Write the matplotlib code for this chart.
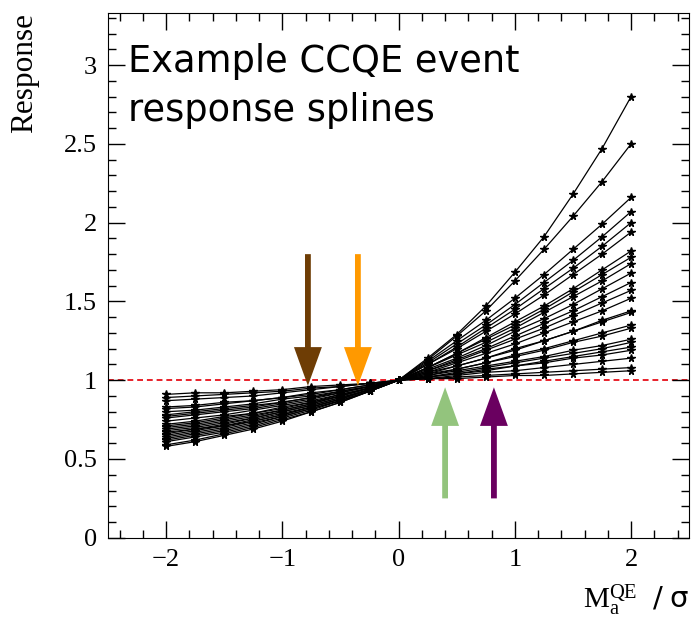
import matplotlib
matplotlib.use('Agg')
import matplotlib.pyplot as plt
from matplotlib.ticker import MultipleLocator

# knot positions (shift of M_a^QE in sigma)
knots = [-2, -1.75, -1.5, -1.25, -1, -0.75, -0.5, -0.25, 0,
         0.25, 0.5, 0.75, 1, 1.25, 1.5, 1.75, 2]

# response values per event
splines = [
    [0.58, 0.61, 0.65, 0.69, 0.74, 0.80, 0.86, 0.93, 1, 1.14, 1.29, 1.47, 1.685, 1.91, 2.18, 2.47, 2.80],
    [0.59, 0.62, 0.66, 0.70, 0.75, 0.80, 0.86, 0.93, 1, 1.13, 1.28, 1.44, 1.63, 1.83, 2.04, 2.26, 2.50],
    [0.61, 0.64, 0.67, 0.71, 0.76, 0.81, 0.87, 0.93, 1, 1.12, 1.25, 1.38, 1.52, 1.67, 1.83, 1.99, 2.16],
    [0.62, 0.65, 0.68, 0.72, 0.77, 0.82, 0.87, 0.93, 1, 1.11, 1.23, 1.35, 1.48, 1.62, 1.76, 1.91, 2.07],
    [0.63, 0.66, 0.69, 0.73, 0.77, 0.82, 0.87, 0.93, 1, 1.10, 1.21, 1.33, 1.45, 1.58, 1.71, 1.85, 2.00],
    [0.64, 0.67, 0.70, 0.74, 0.78, 0.83, 0.88, 0.94, 1, 1.10, 1.20, 1.31, 1.42, 1.54, 1.67, 1.80, 1.94],
    [0.65, 0.68, 0.71, 0.74, 0.78, 0.83, 0.88, 0.94, 1, 1.08, 1.17, 1.27, 1.37, 1.47, 1.58, 1.70, 1.82],
    [0.66, 0.69, 0.71, 0.75, 0.79, 0.83, 0.88, 0.94, 1, 1.08, 1.17, 1.26, 1.35, 1.45, 1.56, 1.67, 1.78],
    [0.67, 0.69, 0.72, 0.76, 0.80, 0.84, 0.89, 0.94, 1, 1.08, 1.16, 1.24, 1.33, 1.43, 1.53, 1.63, 1.74],
    [0.68, 0.70, 0.73, 0.76, 0.80, 0.84, 0.89, 0.94, 1, 1.07, 1.14, 1.22, 1.31, 1.39, 1.48, 1.58, 1.68],
    [0.69, 0.71, 0.74, 0.77, 0.81, 0.85, 0.90, 0.95, 1, 1.06, 1.13, 1.20, 1.28, 1.36, 1.44, 1.53, 1.62],
    [0.70, 0.72, 0.75, 0.78, 0.81, 0.85, 0.90, 0.95, 1, 1.06, 1.12, 1.19, 1.26, 1.33, 1.41, 1.49, 1.57],
    [0.71, 0.73, 0.76, 0.79, 0.82, 0.86, 0.90, 0.95, 1, 1.05, 1.11, 1.17, 1.23, 1.30, 1.37, 1.44, 1.52],
    [0.72, 0.74, 0.77, 0.79, 0.83, 0.86, 0.91, 0.95, 1, 1.05, 1.09, 1.14, 1.20, 1.25, 1.31, 1.38, 1.44],
    [0.74, 0.76, 0.78, 0.81, 0.84, 0.87, 0.91, 0.95, 1, 1.04, 1.09, 1.14, 1.19, 1.25, 1.31, 1.37, 1.43],
    [0.76, 0.78, 0.80, 0.82, 0.85, 0.88, 0.92, 0.96, 1, 1.04, 1.07, 1.11, 1.16, 1.20, 1.25, 1.30, 1.35],
    [0.77, 0.79, 0.81, 0.83, 0.86, 0.89, 0.92, 0.96, 1, 1.03, 1.07, 1.11, 1.15, 1.19, 1.24, 1.28, 1.33],
    [0.78, 0.80, 0.82, 0.84, 0.86, 0.89, 0.93, 0.96, 1, 1.03, 1.06, 1.09, 1.12, 1.15, 1.19, 1.22, 1.26],
    [0.80, 0.81, 0.83, 0.85, 0.88, 0.90, 0.93, 0.96, 1, 1.02, 1.05, 1.08, 1.11, 1.14, 1.17, 1.20, 1.24],
    [0.82, 0.83, 0.85, 0.87, 0.89, 0.91, 0.94, 0.97, 1, 1.02, 1.04, 1.07, 1.09, 1.12, 1.15, 1.18, 1.21],
    [0.83, 0.84, 0.86, 0.87, 0.89, 0.92, 0.94, 0.97, 1, 1.02, 1.04, 1.06, 1.09, 1.11, 1.14, 1.16, 1.19],
    [0.87, 0.88, 0.89, 0.90, 0.92, 0.94, 0.96, 0.98, 1, 1.01, 1.03, 1.05, 1.06, 1.08, 1.10, 1.12, 1.14],
    [0.89, 0.90, 0.91, 0.92, 0.93, 0.95, 0.96, 0.98, 1, 1.01, 1.02, 1.03, 1.04, 1.05, 1.06, 1.07, 1.08],
    [0.91, 0.92, 0.92, 0.93, 0.94, 0.96, 0.97, 0.98, 1, 1.01, 1.01, 1.02, 1.03, 1.03, 1.04, 1.05, 1.06],
]

# arrows: x position, tail y, head y, colour
arrow_x = [-0.78, -0.35, 0.40, 0.82]
arrow_from = [1.80, 1.80, 0.25, 0.25]
arrow_to = [0.965, 0.965, 0.955, 0.955]
arrow_colors = ['#6e3d05', '#ff9900', '#93c47d', '#6a0060']

plt.rcParams['font.family'] = 'Liberation Serif'
plt.rcParams['mathtext.fontset'] = 'custom'
plt.rcParams['mathtext.rm'] = 'Liberation Serif'
plt.rcParams['mathtext.it'] = 'Liberation Serif'
plt.rcParams['mathtext.sf'] = 'DejaVu Sans'

fig = plt.figure(figsize=(6.92, 6.21), dpi=100)
ax = fig.add_axes([0.156, 0.134, 0.84, 0.845])

for s in splines:
    ax.plot(knots, s, color='black', lw=0.9, marker='*', ms=5.5, mfc='black', mec='black')

ax.axhline(1, color='#e8202a', lw=1.4, ls=(0, (3, 2)), zorder=1)

for x, y0, y1, c in zip(arrow_x, arrow_from, arrow_to, arrow_colors):
    ax.arrow(x, y0, 0, y1 - y0, width=0.05, head_width=0.24, head_length=0.245,
             length_includes_head=True, color=c, lw=0, zorder=5)

ax.set_xlim(-2.5, 2.5)
ax.set_ylim(0, 3.33)
ax.xaxis.set_major_locator(MultipleLocator(1))
ax.xaxis.set_minor_locator(MultipleLocator(0.2))
ax.yaxis.set_major_locator(MultipleLocator(0.5))
ax.yaxis.set_minor_locator(MultipleLocator(0.1))
ax.tick_params(which='both', direction='in', top=True, right=True, labelsize=19, pad=8)
ax.tick_params(which='major', length=12, width=1)
ax.tick_params(which='minor', length=6, width=1)
ax.set_xticks([-2, -1, 0, 1, 2])
ax.set_xticklabels(['\u22122', '\u22121', '0', '1', '2'])
ax.set_yticks([0, 0.5, 1, 1.5, 2, 2.5, 3])
ax.set_yticklabels(['0', '0.5', '1', '1.5', '2', '2.5', '3'])

ax.set_ylabel('Response', fontsize=22.5, loc='top', labelpad=18)
ax.set_xlabel(r'$\mathregular{M_a^{QE}}\ \ \mathsf{/\ \sigma}$', fontsize=21, loc='right', labelpad=8)

ax.text(0.035, 0.943, 'Example CCQE event\nresponse splines', transform=ax.transAxes,
        fontsize=26.5, family='DejaVu Sans', va='top', ha='left', linespacing=1.42)

plt.savefig('out.png', dpi=100)
